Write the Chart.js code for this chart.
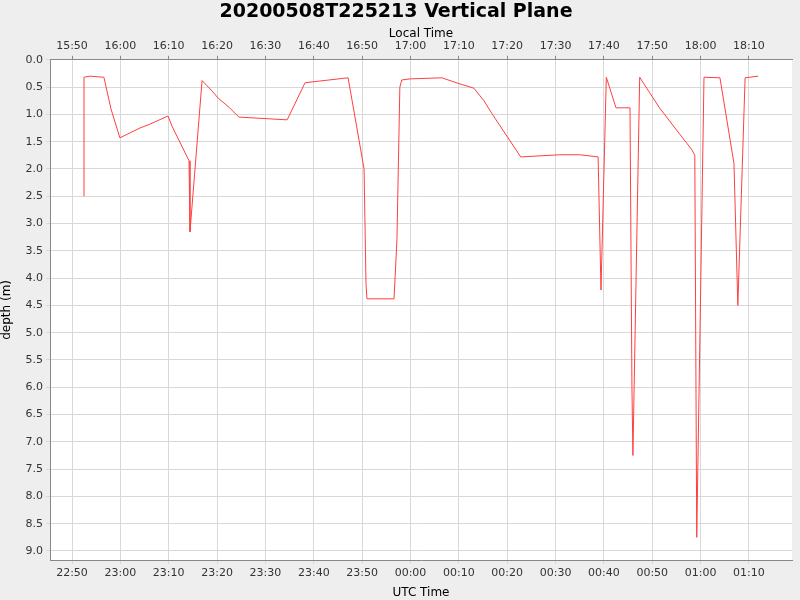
<!DOCTYPE html>
<html><head><meta charset="utf-8">
<script src="https://cdn.jsdelivr.net/npm/chart.js@4/dist/chart.umd.min.js"></script>
<style>html,body{margin:0;padding:0;background:#eeeeee}</style>
</head><body>
<canvas id="c" width="800" height="600" style="width:800px;height:600px"></canvas>
<script>
// minutes after 22:50 UTC
const minutes = [2.48,2.48,3.7,6.6,8.06,9.9,14.06,16.1,19.85,20.7,24.2,24.4,26.9,28.95,30.2,32.6,34.5,44.5,48.2,57.1,60.4,60.8,61.0,66.6,67.2,67.8,68.2,69.9,76.5,79.8,83.1,85.2,86.8,92.8,100.9,105,108.8,109.4,110.5,112.5,115.4,115.8,116.0,117.4,121.5,124.7,128.2,128.8,129.2,130.7,134.0,136.9,137.7,139.2,141.9];
const depth = [2.5,0.32,0.3,0.32,0.9,1.43,1.25,1.18,1.03,1.22,1.85,3.15,0.38,0.57,0.7,0.88,1.05,1.1,0.42,0.33,2.0,4.1,4.38,4.38,3.3,0.5,0.37,0.35,0.33,0.43,0.52,0.75,0.98,1.78,1.74,1.74,1.78,4.22,0.32,0.88,0.88,6.0,7.25,0.32,0.88,1.25,1.65,1.75,8.75,0.32,0.33,1.9,4.5,0.33,0.3];
const tickMinutes = [0,10,20,30,40,50,60,70,80,90,100,110,120,130,140];
const utcLabels = ["22:50","23:00","23:10","23:20","23:30","23:40","23:50","00:00","00:10","00:20","00:30","00:40","00:50","01:00","01:10"];
const localLabels = ["15:50","16:00","16:10","16:20","16:30","16:40","16:50","17:00","17:10","17:20","17:30","17:40","17:50","18:00","18:10"];
const yTicks = [0,0.5,1,1.5,2,2.5,3,3.5,4,4.5,5,5.5,6,6.5,7,7.5,8,8.5,9];

const font = {family:"DejaVu Sans", size:11};
const grid = {color:"#d8d8d8", borderDash:[3,3]};
const fixTicks = (list) => (ax) => { ax.ticks = list.map(v=>({value:v})); };
const bg = {id:"bg", beforeDraw(c){const a=c.chartArea,x=c.ctx;x.save();x.fillStyle="#ffffff";x.fillRect(a.left,a.top,a.right-a.left,a.bottom-a.top);x.restore();}};
new Chart(document.getElementById("c"), {
  type:"line",
  data:{datasets:[{data:minutes.map((m,i)=>({x:m,y:depth[i]})),borderColor:"#ff4040",borderWidth:1,pointRadius:0,tension:0}]},
  plugins:[bg],
  options:{
    responsive:false, animation:false,
    layout:{padding:{left:0,right:8,top:0,bottom:0}},
    plugins:{legend:{display:false},tooltip:{enabled:false},
      title:{display:true,text:"20200508T225213 Vertical Plane",color:"#000",font:{family:"DejaVu Sans",size:19,weight:"bold"},padding:{top:1,bottom:3}}},
    scales:{
      x:{type:"linear",position:"bottom",min:-4.55,max:148.9,afterBuildTicks:fixTicks(tickMinutes),
        afterFit(s){s.height=40;},
        ticks:{font,color:"#333",padding:3,maxRotation:0,callback:(v)=>utcLabels[tickMinutes.indexOf(v)]},
        grid:{...grid,drawTicks:true,tickLength:4},border:{color:"#888"},
        title:{display:true,text:"UTC Time",font:{family:"DejaVu Sans",size:12},color:"#000",padding:{top:0,bottom:0}}},
      x2:{type:"linear",position:"top",min:-4.55,max:148.9,afterBuildTicks:fixTicks(tickMinutes),
        afterFit(s){s.height=33;},
        ticks:{font,color:"#333",padding:3,maxRotation:0,callback:(v)=>localLabels[tickMinutes.indexOf(v)]},
        grid:{drawOnChartArea:false,tickLength:4,color:"#888"},border:{color:"#888"},
        title:{display:true,text:"Local Time",font:{family:"DejaVu Sans",size:12},color:"#000",padding:{top:0,bottom:0}}},
      y:{reverse:true,min:0,max:9.166,afterBuildTicks:fixTicks(yTicks),
        afterFit(s){s.width=50;},
        ticks:{font,color:"#333",padding:3,callback:(v)=>v.toFixed(1)},
        grid:{...grid,tickLength:4},border:{color:"#888"},
        title:{display:true,text:"depth (m)",font:{family:"DejaVu Sans",size:12},color:"#000",padding:{top:0,bottom:2}}}
    }
  }
});
</script>
</body></html>
